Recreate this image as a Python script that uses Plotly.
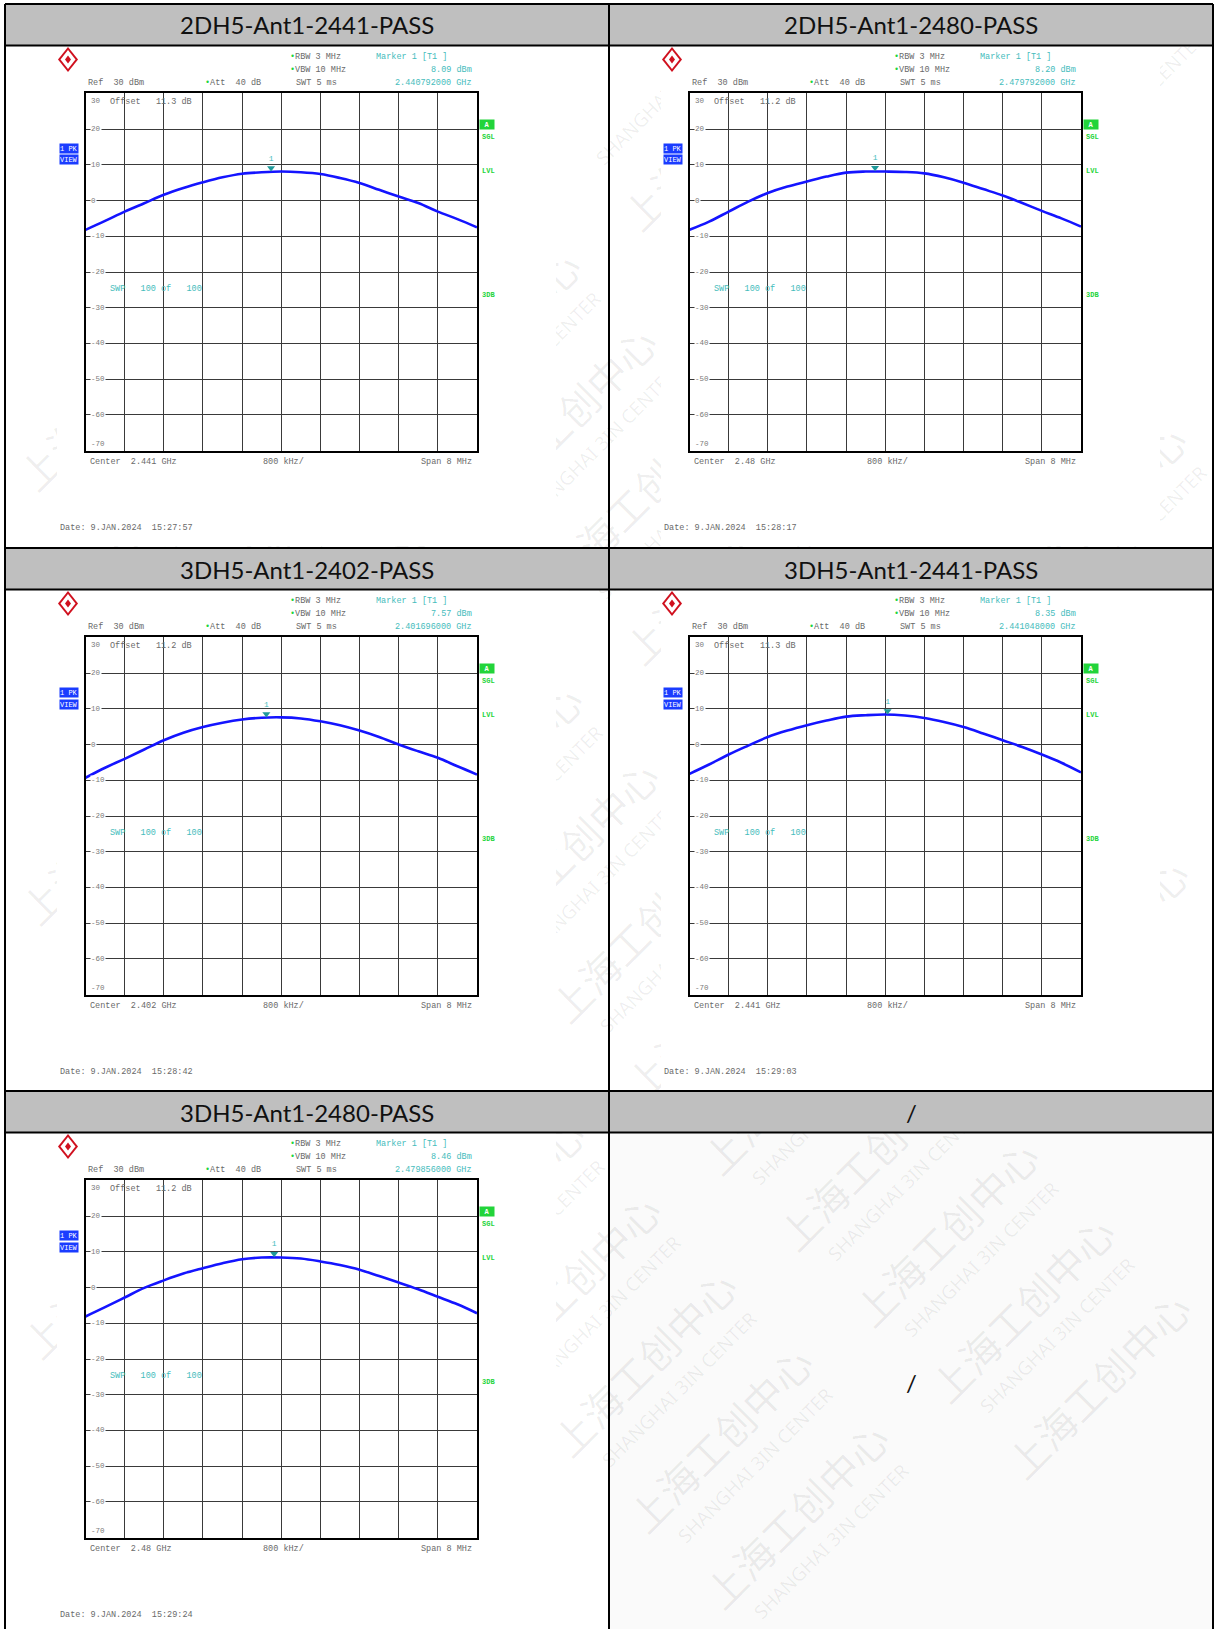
import plotly.graph_objects as go

W, H = 1214, 1629

# ---- data ----
panel_titles = ["2DH5-Ant1-2441-PASS", "2DH5-Ant1-2480-PASS", "3DH5-Ant1-2402-PASS",
                "3DH5-Ant1-2441-PASS", "3DH5-Ant1-2480-PASS"]
empty_title = "/"
center_labels = ["2.441 GHz", "2.48 GHz", "2.402 GHz", "2.441 GHz", "2.48 GHz"]
center_ghz = [2.441, 2.48, 2.402, 2.441, 2.48]
marker_ghz = [2.440792, 2.479792, 2.401696, 2.441048, 2.479856]
marker_dbm = [8.09, 8.20, 7.57, 8.35, 8.46]
offset_db = ["11.3", "11.2", "11.2", "11.3", "11.2"]
dates = ["9.JAN.2024  15:27:57", "9.JAN.2024  15:28:17", "9.JAN.2024  15:28:42",
         "9.JAN.2024  15:29:03", "9.JAN.2024  15:29:24"]

# frequency offset from centre (MHz), span 8 MHz
freq_offset_mhz = [-4.0, -3.6, -3.2, -2.8, -2.4, -2.0, -1.6, -1.2, -0.8, -0.4, 0.0,
                   0.4, 0.8, 1.2, 1.6, 2.0, 2.4, 2.8, 3.2, 3.6, 4.0]
level_2dh5_2441 = [-8.2, -5.7, -3.1, -0.75, 1.6, 3.5, 5.1, 6.5, 7.5, 7.9, 8.1,
                   7.9, 7.4, 6.3, 4.9, 3.0, 1.1, -0.7, -3.1, -5.2, -7.5]
level_2dh5_2480 = [-8.2, -5.9, -3.1, -0.3, 2.1, 3.9, 5.3, 6.7, 7.8, 8.1, 8.1,
                   8.0, 7.6, 6.5, 5.0, 3.2, 1.4, -0.7, -2.9, -5.0, -7.3]
level_3dh5_2402 = [-9.3, -6.5, -4.0, -1.4, 1.2, 3.3, 4.9, 6.1, 7.0, 7.5, 7.6,
                   7.3, 6.5, 5.4, 3.9, 2.1, 0.0, -1.9, -3.7, -6.1, -8.4]
level_3dh5_2441 = [-8.2, -5.6, -2.8, -0.3, 2.1, 3.9, 5.4, 6.7, 7.8, 8.2, 8.4,
                   8.1, 7.4, 6.3, 4.9, 3.1, 1.2, -0.7, -2.8, -5.1, -7.8]
level_3dh5_2480 = [-8.1, -5.5, -2.8, -0.1, 2.0, 3.9, 5.4, 6.8, 7.9, 8.4, 8.4,
                   8.1, 7.3, 6.3, 5.0, 3.2, 1.4, -0.5, -2.6, -4.7, -7.2]
levels = [level_2dh5_2441, level_2dh5_2480, level_3dh5_2402, level_3dh5_2441, level_3dh5_2480]
y_ticks = [30, 20, 10, 0, -10, -20, -30, -40, -50, -60, -70]

# ---- layout helpers (pixel -> paper) ----
def px(x):
    return x / W

def py(y):
    return 1 - y / H

MONO = "Liberation Mono"
GRAY = "#6a6a6a"
CYAN = "#45bcbc"
GREEN = "#22d43a"
BLUE = "#1a3cff"

col_dx = [0, 604]
row_dy = [0, 544, 1087]
cells = [(0, 0), (0, 1), (1, 0), (1, 1), (2, 0)]

fig = go.Figure()
shapes = []
annotations = []

def note(x, y, text, color=GRAY, size=8.5, xanchor="left", family=MONO, **kw):
    annotations.append(dict(x=px(x), y=py(y), xref="paper", yref="paper", text=text,
                            showarrow=False, xanchor=xanchor, yanchor="middle",
                            font=dict(family=family, size=size, color=color), **kw))

# empty cell background
shapes.append(dict(type="rect", xref="paper", yref="paper", x0=px(609), x1=px(1213),
                   y0=py(1629), y1=py(1133), fillcolor="#fafafa", line=dict(width=0), layer="below"))

# watermark lattice (only marks that fit inside the page)
base_x, base_y = 800, 1519
for i in range(-10, 11):
    for j in range(-30, 31):
        cx = base_x + i * 226 + j * 76
        cy = base_y - i * 206 + j * 76
        for (ox, oy, s, fs, fam, half) in [(0, 0, "上海工创中心", 40, "Noto Sans CJK SC", 98),
                                           (32, 23, "SHANGHAI 3IN CENTER", 19, "Noto Sans", 82)]:
            wx, wy = cx + ox, cy + oy
            if not (half < wx < W - half and half < wy < H - half):
                continue
            shapes.append(dict(type="rect", xref="paper", yref="paper",
                               x0=px(wx - 2), x1=px(wx + 2), y0=py(wy + 2), y1=py(wy - 2),
                               fillcolor="rgba(0,0,0,0)", line=dict(width=0), layer="below",
                               label=dict(text=s, textangle=-45, textposition="middle center",
                                          font=dict(family=fam, size=fs, color="rgba(0,0,0,0.065)"))))

# screenshot areas (opaque white) and header bars
for (r, c) in cells:
    dx, dy = col_dx[c], row_dy[r]
    bottom = 546 + dy if r < 2 else H
    shapes.append(dict(type="rect", xref="paper", yref="paper", x0=px(57 + dx), x1=px(556 + dx),
                       y0=py(bottom), y1=py(46 + dy), fillcolor="white", line=dict(width=0), layer="below"))
for r in range(3):
    for c in range(2):
        dx, dy = col_dx[c], row_dy[r]
        shapes.append(dict(type="rect", xref="paper", yref="paper", x0=px(5 + dx), x1=px(609 + dx),
                           y0=py(45.5 + dy), y1=py(4 + dy), fillcolor="#bfbfbf", line=dict(width=0),
                           layer="below"))

# table lines
for x in [5, 609, 1213]:
    shapes.append(dict(type="line", xref="paper", yref="paper", x0=px(x), x1=px(x), y0=py(4), y1=py(H),
                       line=dict(color="black", width=2), layer="above"))
for dy in row_dy:
    for y in [4 + dy, 45.5 + dy]:
        shapes.append(dict(type="line", xref="paper", yref="paper", x0=px(5), x1=px(1213), y0=py(y), y1=py(y),
                           line=dict(color="black", width=2), layer="above"))

# header titles
for k, (r, c) in enumerate(cells):
    note(307 + col_dx[c], 25 + row_dy[r], panel_titles[k], color="#111", size=24,
         xanchor="center", family="Lato")
note(911, 25 + row_dy[2], empty_title, color="#111", size=24, xanchor="center", family="Lato")
note(911, 1382, "/", color="#111", size=24, xanchor="center", family="Lato")

NB = "\u00a0"
dot = f"<span style='color:{GREEN}'>•</span>"

for k, (r, c) in enumerate(cells):
    dx, dy = col_dx[c], row_dy[r]
    n = "" if k == 0 else str(k + 1)

    fig.add_trace(go.Scatter(x=freq_offset_mhz, y=levels[k], mode="lines",
                             line=dict(color="#1414ff", width=2.6, shape="spline"),
                             xaxis="x" + n, yaxis="y" + n, hoverinfo="skip", showlegend=False))
    mk_x = (marker_ghz[k] - center_ghz[k]) * 1000
    fig.add_trace(go.Scatter(x=[mk_x], y=[marker_dbm[k] + 1.0], mode="markers+text", text=["1"],
                             textposition="top center", textfont=dict(family=MONO, size=8, color=CYAN),
                             marker=dict(symbol="triangle-down", size=7, color="#1f9a9a"),
                             xaxis="x" + n, yaxis="y" + n, hoverinfo="skip", showlegend=False))

    ax = dict(showgrid=True, gridcolor="#3a3a3a", gridwidth=1.2, zeroline=False, showticklabels=False,
              ticks="", showline=True, linecolor="black", linewidth=2, mirror=True, fixedrange=True)
    fig.update_layout({
        "xaxis" + n: dict(ax, domain=[px(85.5 + dx), px(477 + dx)], range=[-4, 4], tick0=-4, dtick=0.8,
                          anchor="y" + n),
        "yaxis" + n: dict(ax, domain=[py(450.7 + dy), py(93.3 + dy)], range=[-70, 30], tick0=-70, dtick=10,
                          anchor="x" + n),
    })

    for v in y_ticks:
        yshift = -8 if v == 30 else (7 if v == -70 else 0)
        annotations.append(dict(x=-4, y=v, xref="x" + n, yref="y" + n, text=str(v), showarrow=False,
                                xanchor="left", yanchor="middle", xshift=4, yshift=yshift,
                                bgcolor="white" if v not in (30, -70) else None, borderpad=0,
                                font=dict(family=MONO, size=7.5, color="#7a7a7a")))

    # R&S logo
    cx, cy = 68 + dx, 59.5 + dy
    def diamond(hw, hh):
        return (f"M {px(cx)},{py(cy - hh)} L {px(cx + hw)},{py(cy)} "
                f"L {px(cx)},{py(cy + hh)} L {px(cx - hw)},{py(cy)} Z")
    shapes.append(dict(type="path", xref="paper", yref="paper", path=diamond(10, 12.5),
                       fillcolor="#d0101e", line=dict(width=0), layer="above"))
    shapes.append(dict(type="path", xref="paper", yref="paper", path=diamond(7.5, 9.5),
                       fillcolor="white", line=dict(width=0), layer="above"))
    shapes.append(dict(type="path", xref="paper", yref="paper", path=diamond(3, 4),
                       fillcolor="#d0101e", line=dict(width=0), layer="above"))

    # instrument settings
    note(288 + dx, 56.7 + dy, dot + "RBW 3 MHz")
    note(288 + dx, 70 + dy, dot + "VBW 10 MHz")
    note(374 + dx, 56.7 + dy, "Marker 1 [T1 ]", color=CYAN)
    note(474 + dx, 70 + dy, f"{marker_dbm[k]:.2f} dBm", color=CYAN, xanchor="right")
    note(86.4 + dx, 82.7 + dy, "Ref" + NB * 2 + "30 dBm")
    note(203 + dx, 82.7 + dy, dot + "Att" + NB * 2 + "40 dB")
    note(294 + dx, 82.7 + dy, "SWT 5 ms")
    note(474 + dx, 82.7 + dy, f"{marker_ghz[k]:.9f} GHz", color=CYAN, xanchor="right")
    note(108 + dx, 101.7 + dy, "Offset" + NB * 3 + offset_db[k] + " dB")
    note(108 + dx, 288.7 + dy, "SWP" + NB * 3 + "100 of" + NB * 3 + "100", color=CYAN)

    # side status boxes
    for (y, s) in [(148.5, "1 PK"), (160, "VIEW")]:
        annotations.append(dict(x=px(59 + dx), y=py(y + dy), xref="paper", yref="paper", text=s,
                                showarrow=False, xanchor="left", yanchor="middle", width=18, height=9,
                                align="left", bgcolor=BLUE, borderpad=0,
                                font=dict(family=MONO, size=7, color="white")))
    annotations.append(dict(x=px(479 + dx), y=py(124.5 + dy), xref="paper", yref="paper", text="<b>A</b>",
                            showarrow=False, xanchor="left", yanchor="middle", width=14, height=9,
                            bgcolor=GREEN, borderpad=0, font=dict(family=MONO, size=7, color="white")))
    note(480 + dx, 137 + dy, "<b>SGL</b>", color=GREEN, size=7)
    note(480 + dx, 171 + dy, "<b>LVL</b>", color=GREEN, size=7)
    note(480 + dx, 295 + dy, "<b>3DB</b>", color=GREEN, size=7)

    # bottom labels
    note(88 + dx, 461.7 + dy, "Center" + NB * 2 + center_labels[k])
    note(261 + dx, 461.7 + dy, "800 kHz/")
    note(474 + dx, 461.7 + dy, "Span 8 MHz", xanchor="right")
    note(57.6 + dx, 527.7 + dy, "Date: " + dates[k])

fig.update_layout(width=W, height=H, margin=dict(l=0, r=0, t=0, b=0), autosize=False,
                  paper_bgcolor="white", plot_bgcolor="white", showlegend=False,
                  shapes=shapes, annotations=annotations)

fig.write_html("out.html", config={"displayModeBar": False},
               post_script="document.body.style.margin='0';")
